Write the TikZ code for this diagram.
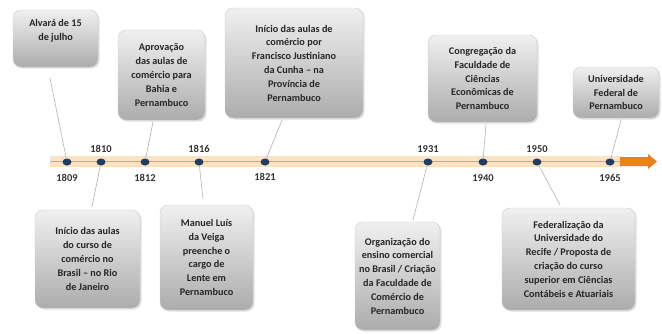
\documentclass[tikz,border=0pt]{standalone}
\usepackage{fontspec}
\setmainfont{Carlito}
\usetikzlibrary{shadows,shapes.geometric}
\definecolor{dotblue}{HTML}{1F3D5E}
\definecolor{lineorange}{HTML}{F0A050}
\definecolor{haloorange}{HTML}{FBE3C8}
\definecolor{arroworange}{HTML}{E8821E}
\tikzset{
  evbox/.style={rounded corners=8pt, top color=gray!12, bottom color=gray!65,
    draw=gray!40, line width=0.4pt, align=center, inner sep=2pt,
    font=\fontsize{10.2}{13.8}\selectfont\bfseries, text=black!85,
    drop shadow={shadow xshift=1.5pt, shadow yshift=-1.5pt, opacity=0.25}},
  evdot/.style={ellipse, fill=dotblue, minimum width=9pt, minimum height=7pt, inner sep=0pt},
  year/.style={font=\fontsize{10.5}{11}\selectfont\bfseries, text=black!80, inner sep=0pt},
  conn/.style={draw=gray!60, line width=0.6pt},
}
\begin{document}
\begin{tikzpicture}[x=1pt,y=-1pt]
\useasboundingbox (0,0) rectangle (662,333);
% timeline
\fill[haloorange] (50,156) rectangle (622,167);
\draw[lineorange, line width=1.2pt] (50,161.5) -- (622,161.5);
\fill[arroworange] (620,157) -- (648,157) -- (648,154) -- (657,161.5) -- (648,169) -- (648,166) -- (620,166) -- cycle;
% dots
\node[evdot] (d1809) at (67,162) {};
\node[evdot] (d1810) at (101,162) {};
\node[evdot] (d1812) at (145,162) {};
\node[evdot] (d1816) at (199,162) {};
\node[evdot] (d1821) at (265,162) {};
\node[evdot] (d1931) at (428,162) {};
\node[evdot] (d1940) at (483,162) {};
\node[evdot] (d1950) at (537,162) {};
\node[evdot] (d1965) at (610,162) {};
% years
\node[year] (y1809) at (67,178) {1809};
\node[year] (y1810) at (101,149) {1810};
\node[year] (y1812) at (145,178) {1812};
\node[year] (y1816) at (199,149) {1816};
\node[year] (y1821) at (265,177) {1821};
\node[year] (y1931) at (428,149) {1931};
\node[year] (y1940) at (483,178) {1940};
\node[year] (y1950) at (537,149) {1950};
\node[year] (y1965) at (610,178) {1965};
% boxes
\node[evbox, minimum width=85pt, minimum height=57pt] (b1) at (55.5,38.5) {Alvará de 15\\de julho\\[4pt]};
\node[evbox, minimum width=87pt, minimum height=90pt] (b2) at (161.5,75) {Aprovação\\das aulas de\\comércio para\\Bahia e\\Pernambuco};
\node[evbox, minimum width=138pt, minimum height=110pt] (b3) at (294,63) {Início das aulas de\\comércio por\\Francisco Justiniano\\da Cunha – na\\Província de\\Pernambuco};
\node[evbox, minimum width=109pt, minimum height=87pt] (b4) at (482.5,78.5) {Congregação da\\Faculdade de\\Ciências\\Econômicas de\\Pernambuco};
\node[evbox, minimum width=86pt, minimum height=51pt] (b5) at (616,92.5) {Universidade\\Federal de\\Pernambuco};
\node[evbox, minimum width=105pt, minimum height=98pt] (b6) at (87.5,259) {Início das aulas\\do curso de\\comércio no\\Brasil – no Rio\\de Janeiro};
\node[evbox, minimum width=93pt, minimum height=105pt] (b7) at (206.5,257.5) {Manuel Luís\\da Veiga\\preenche o\\cargo de\\Lente em\\Pernambuco};
\node[evbox, minimum width=85pt, minimum height=108pt] (b8) at (397.5,276) {Organização do\\ensino comercial\\no Brasil / Criação\\da Faculdade de\\Comércio de\\Pernambuco};
\node[evbox, minimum width=133pt, minimum height=102pt] (b9) at (568.5,259) {Federalização da\\Universidade do\\Recife / Proposta de\\criação do curso\\superior em Ciências\\Contábeis e Atuariais};
% connectors
\coordinate (c1) at (50,78);
\coordinate (c2) at (153,122);
\coordinate (c3) at (282,120);
\coordinate (c4) at (486,124);
\coordinate (c5) at (621,120);
\coordinate (c6) at (92,207);
\coordinate (c7) at (203,199);
\coordinate (c8) at (413,220);
\coordinate (c9) at (560,205);
\draw[conn] (c1) -- (d1809);
\draw[conn] (c2) -- (d1812);
\draw[conn] (c3) -- (d1821);
\draw[conn] (c4) -- (d1940);
\draw[conn] (c5) -- (d1965);
\draw[conn] (d1810) -- (c6);
\draw[conn] (d1816) -- (c7);
\draw[conn] (d1931) -- (c8);
\draw[conn] (d1950) -- (c9);
\end{tikzpicture}
\end{document}
